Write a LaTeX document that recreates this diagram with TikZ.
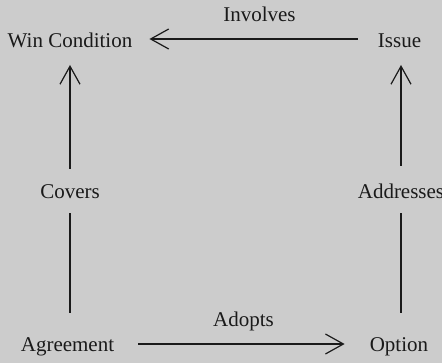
\documentclass[tikz,border=0pt]{standalone}
\usepackage{fontspec}
\setmainfont{Liberation Serif}
\usetikzlibrary{arrows.meta}
\definecolor{bgfill}{RGB}{204,204,204}
\definecolor{ink}{RGB}{26,26,26}
\begin{document}
\begin{tikzpicture}[x=1pt,y=-1pt,
  lbl/.style={anchor=base,inner sep=0pt,text=ink,font=\fontsize{21}{25}\selectfont},
  link/.style={draw=ink,line width=1.2pt},
  arr/.style={link,-{Straight Barb[length=18pt,width=20pt,line width=1.2pt]}}]
  % canvas
  \fill[bgfill] (0,0) rectangle (442,363);
  \useasboundingbox (0,0) rectangle (442,363);
  % concepts
  \node[lbl] (wc) at (70,48) {Win Condition};
  \node[lbl] (issue) at (399.5,48) {Issue};
  \node[lbl] (agreement) at (67.5,352) {Agreement};
  \node[lbl] (option) at (399,352) {Option};
  % relation labels
  \node[lbl] (covers) at (70,199) {Covers};
  \node[lbl] (addresses) at (401,199) {Addresses};
  \node[lbl] (involves) at (259.5,22) {Involves};
  \node[lbl] (adopts) at (243.5,327) {Adopts};
  % Issue involves Win Condition
  \draw[arr] ([xshift=-20pt,yshift=9pt]issue.base west) -- ([xshift=17pt,yshift=9pt]wc.base east);
  % Agreement adopts Option
  \draw[arr] ([xshift=24pt,yshift=8pt]agreement.base east) -- ([xshift=-25pt,yshift=8pt]option.base west);
  % Agreement covers Win Condition
  \draw[link] ([xshift=2.5pt,yshift=39pt]agreement.base) -- ([yshift=-14pt]covers.base);
  \draw[arr] ([yshift=30pt]covers.base) -- ([yshift=-17pt]wc.base);
  % Option addresses Issue
  \draw[link] ([xshift=2pt,yshift=39pt]option.base) -- ([yshift=-14pt]addresses.base);
  \draw[arr] ([yshift=33pt]addresses.base) -- ([xshift=1.5pt,yshift=-17pt]issue.base);
\end{tikzpicture}
\end{document}
